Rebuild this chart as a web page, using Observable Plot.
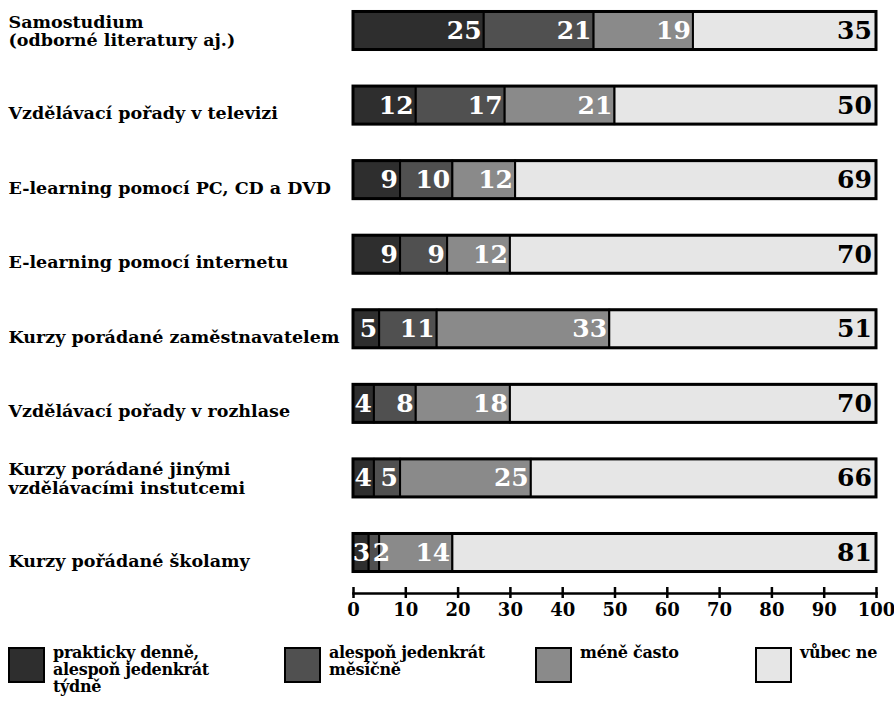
<!DOCTYPE html>
<html>
<head>
<meta charset="utf-8">
<script src="https://cdn.jsdelivr.net/npm/d3@7"></script>
<script src="https://cdn.jsdelivr.net/npm/@observablehq/plot@0.6"></script>
<style>
  body { margin: 0; background: #fff; }
  #legend { position: relative; height: 63px; font-family: "DejaVu Serif", serif; font-weight: bold; font-size: 16px; color: #000; }
  .item { position: absolute; top: 0; }
  .sw { position: absolute; top: 7px; left: 0; width: 33px; height: 32px; border: 2px solid #000; }
  .lbl { position: absolute; top: 4px; left: 45px; white-space: pre; line-height: 17px; letter-spacing: -0.3px; }
</style>
</head>
<body>
<div id="chart"></div>
<div id="legend"></div>
<script>
const categories = [
  "Samostudium\n(odborné literatury aj.)",
  "Vzdělávací pořady v televizi",
  "E-learning pomocí PC, CD a DVD",
  "E-learning pomocí internetu",
  "Kurzy porádané zaměstnavatelem",
  "Vzdělávací pořady v rozhlase",
  "Kurzy porádané jinými\nvzdělávacími instutcemi",
  "Kurzy pořádané školamy"
];
const seriesNames = ["prakticky denně,\nalespoň jedenkrát\ntýdně", "alespoň jedenkrát\nměsíčně", "méně často", "vůbec ne"];
const daily   = [25, 12, 9, 9, 5, 4, 4, 3];
const monthly = [21, 17, 10, 9, 11, 8, 5, 2];
const less    = [19, 21, 12, 12, 33, 18, 25, 14];
const never   = [35, 50, 69, 70, 51, 70, 66, 81];
const seriesColors = ["#2e2e2e", "#505050", "#8a8a8a", "#e6e6e6"];
const xTicks = [0, 10, 20, 30, 40, 50, 60, 70, 80, 90, 100];

const seriesValues = [daily, monthly, less, never];
const rows = [];
const totals = [];
categories.forEach((c, i) => {
  let x = 0, prevEnd = 0;
  seriesValues.forEach((vals, s) => {
    const v = vals[i];
    const w = String(v).length * 3;
    const pad = s === 3 ? 0.9 : 0.5;
    const gap = s === 0 ? 0.2 : 0.8;
    const end = Math.max(x + v - pad, prevEnd + w + gap);
    rows.push({category: c, series: seriesNames[s], s, value: v, x1: x, x2: x + v, labelX: end});
    prevEnd = end;
    x += v;
  });
  totals.push({category: c, total: x});
});

const FONT = "'DejaVu Serif', serif";
const valueStyle = {textAnchor: "end", lineAnchor: "middle", fontSize: 25, fontWeight: "bold", fontFamily: FONT, letterSpacing: "-1px"};
const labelStyle = {frameAnchor: "left", textAnchor: "start", dx: -345, lineAnchor: "middle", fill: "#000", fontSize: 17.5, fontWeight: "bold", fontFamily: FONT, letterSpacing: "-0.2px"};
const chart = Plot.plot({
  width: 894,
  height: 640,
  marginLeft: 353,
  marginRight: 18,
  marginTop: 0,
  marginBottom: 57,
  style: {fontFamily: FONT, fontWeight: "bold", background: "#fff", color: "#000"},
  x: {domain: [0, 100], axis: null},
  y: {domain: categories, paddingInner: 0.49, paddingOuter: 0.154, round: false, axis: null},
  color: {domain: seriesNames, range: seriesColors},
  marks: [
    Plot.barX(rows, {x1: "x1", x2: "x2", y: "category", fill: "series", stroke: "#000", strokeWidth: 2}),
    Plot.barX(totals, {x: "total", y: "category", fill: "none", stroke: "#000", strokeWidth: 3}),
    Plot.text(rows.filter(d => d.s < 3), {x: "labelX", y: "category", text: "value", fill: "#fff", ...valueStyle}),
    Plot.text(rows.filter(d => d.s === 3), {x: "labelX", y: "category", text: "value", fill: "#000", ...valueStyle}),
    Plot.text(categories.filter(c => !c.includes("\n")), {y: d => d, text: d => d, dy: 8, ...labelStyle}),
    Plot.text(categories.filter(c => c.includes("\n")), {y: d => d, text: d => d, dy: 0, lineHeight: 1.05, ...labelStyle}),
    Plot.frame({anchor: "bottom", stroke: "#000", strokeWidth: 2.5, dy: 10}),
    Plot.axisX({ticks: xTicks, tickFormat: d => String(d), tickSize: 11, tickPadding: 5, dy: 4, strokeWidth: 2.5, fontSize: 18, fontWeight: "bold", fontFamily: FONT, fill: "#000", stroke: "#000"})
  ]
});
document.getElementById("chart").appendChild(chart);

const legendLefts = [8, 284, 535, 755];
const legend = document.getElementById("legend");
seriesNames.forEach((name, i) => {
  const item = document.createElement("div");
  item.className = "item";
  item.style.left = legendLefts[i] + "px";
  const sw = document.createElement("div");
  sw.className = "sw";
  sw.style.background = seriesColors[i];
  const lbl = document.createElement("div");
  lbl.className = "lbl";
  lbl.textContent = name;
  item.appendChild(sw);
  item.appendChild(lbl);
  legend.appendChild(item);
});
</script>
</body>
</html>
